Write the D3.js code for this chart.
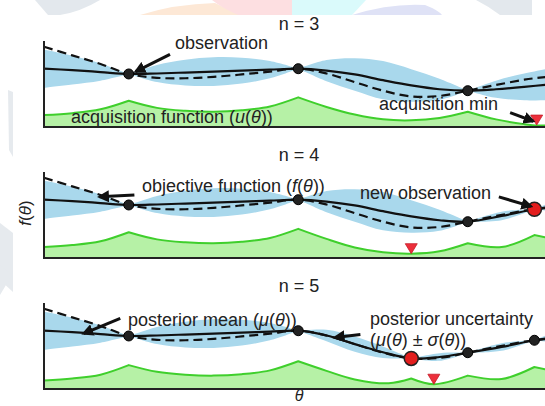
<!DOCTYPE html>
<html>
<head>
<meta charset="utf-8">
<title>Bayesian optimisation</title>
<style>
  body { margin: 0; background: #fff; }
  text { font-family: "Liberation Sans", Arial, sans-serif; fill: #222; }
</style>
</head>
<body>
<script src="https://cdnjs.cloudflare.com/ajax/libs/d3/7.9.0/d3.min.js"></script>
<script>
const width = 545, height = 406;

// objective function f(theta), same in every panel
const objTheta = [0,0.5,1,1.5,2,2.5,3,3.5,4,4.5,5,5.5,6,6.5,7,7.5,8,8.5,8.68,9];
const objValue = [84,75,66,55.5,51.5,51,52.5,55,58,61,56,47,38,32,32.5,38,44,49.5,51,53];

const titles = ["n = 3", "n = 4", "n = 5"];

// observed points (black) and the newest observation (red)
const obsTheta = [[1.5,4.5,7.5], [1.5,4.5,7.5], [1.5,4.5,7.5,8.68]];
const obsValue = [[55.5,61,38], [55.5,61,38], [55.5,61,38,51]];
const newObs = [null, [8.68,51], [6.5,32]];

// posterior mean and sigma
const postTheta = [
  [0,0.5,1,1.5,2,2.5,3,3.5,4,4.5,5,5.5,6,6.5,7,7.5,8,8.5,9],
  [0,0.5,1,1.5,2,2.5,3,3.5,4,4.5,5,5.5,6,6.5,7,7.5,8.1,8.68,9],
  [0,0.5,1,1.5,2,2.5,3,3.5,4,4.5,5,5.5,6,6.5,7,7.5,8.1,8.68,9]
];
const postMean = [
  [61,59.5,57.5,55.5,56,57,58,59,60,61,59,55,49,43.5,39.5,38,39.5,42,45],
  [61,59.5,57.5,55.5,56,57,58,59,60,61,59,55,49,43.5,39.5,38,44,51,54],
  [61,59.5,57.5,55.5,56,57,58,59,60,61,56,47,38.5,32,33.5,38,44,51,54]
];
const postSigma = [
  [20,15,9,0,9,13.5,15,13.5,9,0,11,17,20,17,11,0,9,14,17],
  [20,15,9,0,9,13.5,15,13.5,9,0,11,17,20,17,11,0,4.5,0,5],
  [20,15,9,0,9,13.5,15,13.5,9,0,6,8,6,0,4,0,4,0,5]
];

// acquisition function u(theta)
const acqTheta = [
  [0,0.5,1,1.5,2,2.5,3,3.5,4,4.5,5,5.5,6,6.5,7,7.5,8,8.5,8.75,9],
  [0,0.5,1,1.5,2,2.5,3,3.5,4,4.5,5,5.5,6,6.5,7,7.5,8.1,8.68,9],
  [0,0.5,1,1.5,2,2.5,3,3.5,4,4.5,5,5.5,6.1,6.5,6.9,7.5,8.1,8.68,9]
];
const acqValue = [
  [12.5,14.5,18.5,27.5,20,17,16,17.5,21.5,31,21,13,8,7,9.5,16,8,3,1.5,2],
  [11.5,13.5,17.5,27,19.5,16.5,15.5,17,21,30.5,20,11,6,4.5,7,15.5,11.5,24,20],
  [9,11,15,25,18,15,14,15.5,19.5,29,19,10,6,11,5,14,10.5,23,19]
];
// acquisition minimum marker
const acqMin = [[8.72,2], [6.5,4.5], [6.9,5]];

const svg = d3.select("body").append("svg")
  .attr("width", width)
  .attr("height", height);

// faint watermark shapes behind the figure
const wm = svg.append("g");
wm.append("path").attr("d", "M35,0 L100,0 Q80,12 60,15 L48,15 Z").attr("fill", "#e3e8ed");
wm.append("path").attr("d", "M140,15 Q175,4 215,3 L240,15 Z").attr("fill", "#fde8d6");
wm.append("path").attr("d", "M212,0 L292,0 L292,15 L238,15 Q222,8 212,0 Z").attr("fill", "#fddfe1");
wm.append("path").attr("d", "M292,0 L366,0 L352,15 L292,15 Z").attr("fill", "#dafafb");
wm.append("path").attr("d", "M352,15 Q390,3 425,5 Q438,10 442,15 Z").attr("fill", "#dfe2f6");
wm.append("path").attr("d", "M476,0 L532,0 L532,15 L500,15 Q488,6 476,0 Z").attr("fill", "#e3e8ed");
wm.append("path").attr("d", "M8,90 L13,92 L13,157 L9,150 Z").attr("fill", "#e6eaee");
wm.append("path").attr("d", "M0,223 L13,233 L13,292 L0,280 Z").attr("fill", "#e6eaee");
wm.append("path").attr("d", "M0,265 L12,275 L0,295 Z").attr("fill", "#e6eaee");

const x = d3.scaleLinear().domain([0, 10]).range([44, 609]);

const defs = svg.append("defs");
defs.append("marker")
  .attr("id", "head")
  .attr("viewBox", "0 0 10 10")
  .attr("refX", 8).attr("refY", 5)
  .attr("markerWidth", 4).attr("markerHeight", 4)
  .attr("orient", "auto")
  .append("path").attr("d", "M0,0 L10,5 L0,10 Z").attr("fill", "#111");

// split a point list into pieces at the observation knots (cusps)
function pieces(pts, knots) {
  const out = [];
  let cur = [];
  pts.forEach(p => {
    cur.push(p);
    if (knots.includes(p[0]) && cur.length > 1) { out.push(cur); cur = [p]; }
  });
  if (cur.length > 1) out.push(cur);
  return out;
}
function joined(pts, knots, gen) {
  return pieces(pts, knots).map((s, i) => {
    const d = gen(s);
    return i ? "L" + d.slice(1) : d;
  }).join("");
}

const panelTops = [41, 172, 303];
const panelH = 86;

// annotations per panel: text pieces (it* = italic) and position
const notes = [
  [
    {t: "observation", x: 175, y: 49},
    {t: "acquisition function (", it: "u", t2: "(", it2: "θ", t3: "))", x: 71, y: 123},
    {t: "acquisition min", x: 379, y: 110}
  ],
  [
    {t: "objective function (", it: "f", t2: "(", it2: "θ", t3: "))", x: 142, y: 192},
    {t: "new observation", x: 360, y: 199}
  ],
  [
    {t: "posterior mean (", it: "μ", t2: "(", it2: "θ", t3: "))", x: 128, y: 326},
    {t: "posterior uncertainty", x: 370, y: 325},
    {t: "(", it: "μ", t2: "(", it2: "θ", t3: ") ± ", it3: "σ", t4: "(", it4: "θ", t5: "))", x: 370, y: 346}
  ]
];
const arrows = [
  [[2.23,76,1.62,58], [8.25,15,8.66,6]],
  [[1.6,66,0.98,64], [8.05,64,8.62,54]],
  [[1.35,74,0.7,58], [5.6,57,5.15,54]]
];

panelTops.forEach((top, k) => {
  const bottom = top + panelH;
  const y = d3.scaleLinear().domain([0, 90]).range([bottom, top]);
  const g = svg.append("g");

  const line = d3.line().x(d => x(d[0])).y(d => y(d[1])).curve(d3.curveCatmullRom.alpha(0.5));

  // uncertainty band
  const knots = newObs[k] ? obsTheta[k].concat([newObs[k][0]]) : obsTheta[k];
  const upper = postTheta[k].map((t, i) => [t, postMean[k][i] + postSigma[k][i]]);
  const lower = postTheta[k].map((t, i) => [t, postMean[k][i] - postSigma[k][i]]).reverse();
  const bandKnots = postTheta[k].filter((t, i) => postSigma[k][i] === 0);
  const bandPath = joined(upper, bandKnots, line) + "L" + joined(lower, bandKnots, line).slice(1) + "Z";
  g.append("path").attr("d", bandPath).attr("fill", "#a9d8ec").attr("stroke", "none");

  // acquisition function
  const acq = acqTheta[k].map((t, i) => [t, acqValue[k][i]]);
  const acqTop = joined(acq, knots, line);
  const last = acq[acq.length - 1][0], first = acq[0][0];
  g.append("path")
    .attr("d", acqTop + `L${x(last)},${y(0)}L${x(first)},${y(0)}Z`)
    .attr("fill", "#b6f1a6");
  g.append("path").attr("d", acqTop).attr("fill", "none")
    .attr("stroke", "#3fcf2c").attr("stroke-width", 2);

  // objective (dashed) and posterior mean
  g.append("path").attr("d", line(objTheta.map((t, i) => [t, objValue[i]])))
    .attr("fill", "none").attr("stroke", "#111").attr("stroke-width", 2.2)
    .attr("stroke-dasharray", "9,5");
  g.append("path").attr("d", line(postTheta[k].map((t, i) => [t, postMean[k][i]])))
    .attr("fill", "none").attr("stroke", "#111").attr("stroke-width", 2.2);

  // observations
  g.selectAll(".obs").data(obsTheta[k].map((t, i) => [t, obsValue[k][i]]))
    .enter().append("circle")
    .attr("cx", d => x(d[0])).attr("cy", d => y(d[1])).attr("r", 5)
    .attr("fill", "#222").attr("stroke", "#000").attr("stroke-width", 1);
  if (newObs[k]) {
    g.append("circle")
      .attr("cx", x(newObs[k][0])).attr("cy", y(newObs[k][1])).attr("r", 7)
      .attr("fill", "#e31d1d").attr("stroke", "#222").attr("stroke-width", 1.5);
  }

  // acquisition minimum marker
  const mx = x(acqMin[k][0]), my = y(acqMin[k][1]);
  g.append("path").attr("d", `M${mx - 6},${my - 10}L${mx + 6},${my - 10}L${mx},${my}Z`)
    .attr("fill", "#ec2f3b").attr("stroke", "#c51d2a").attr("stroke-width", 0.8);

  // axes: left and bottom lines only
  g.append("line").attr("x1", 44).attr("x2", 44).attr("y1", top).attr("y2", bottom)
    .attr("stroke", "#222").attr("stroke-width", 2);
  g.append("line").attr("x1", 43).attr("x2", width).attr("y1", bottom).attr("y2", bottom)
    .attr("stroke", "#222").attr("stroke-width", 2);

  // arrows
  arrows[k].forEach(a => {
    g.append("line")
      .attr("x1", x(a[0])).attr("y1", y(a[1])).attr("x2", x(a[2])).attr("y2", y(a[3]))
      .attr("stroke", "#111").attr("stroke-width", 3)
      .attr("marker-end", "url(#head)");
  });

  // title
  g.append("text").attr("x", 299).attr("y", top - 11).attr("text-anchor", "middle")
    .attr("font-size", "18px").text(titles[k]);

  // annotation text
  notes[k].forEach(n => {
    const t = g.append("text").attr("x", n.x).attr("y", n.y).attr("font-size", "18px");
    ["t", "it", "t2", "it2", "t3", "it3", "t4", "it4", "t5"].forEach(key => {
      if (n[key] !== undefined) {
        t.append("tspan").attr("font-style", key.startsWith("it") ? "italic" : "normal").text(n[key]);
      }
    });
  });
});

// axis labels
const fl = svg.append("text").attr("transform", "translate(31,213) rotate(-90)")
  .attr("text-anchor", "middle").attr("font-size", "17px");
fl.append("tspan").attr("font-style", "italic").text("f");
fl.append("tspan").text("(");
fl.append("tspan").attr("font-style", "italic").text("θ");
fl.append("tspan").text(")");

svg.append("text").attr("x", 299).attr("y", 401).attr("text-anchor", "middle")
  .attr("font-size", "16px").attr("font-style", "italic").text("θ");
</script>
</body>
</html>
